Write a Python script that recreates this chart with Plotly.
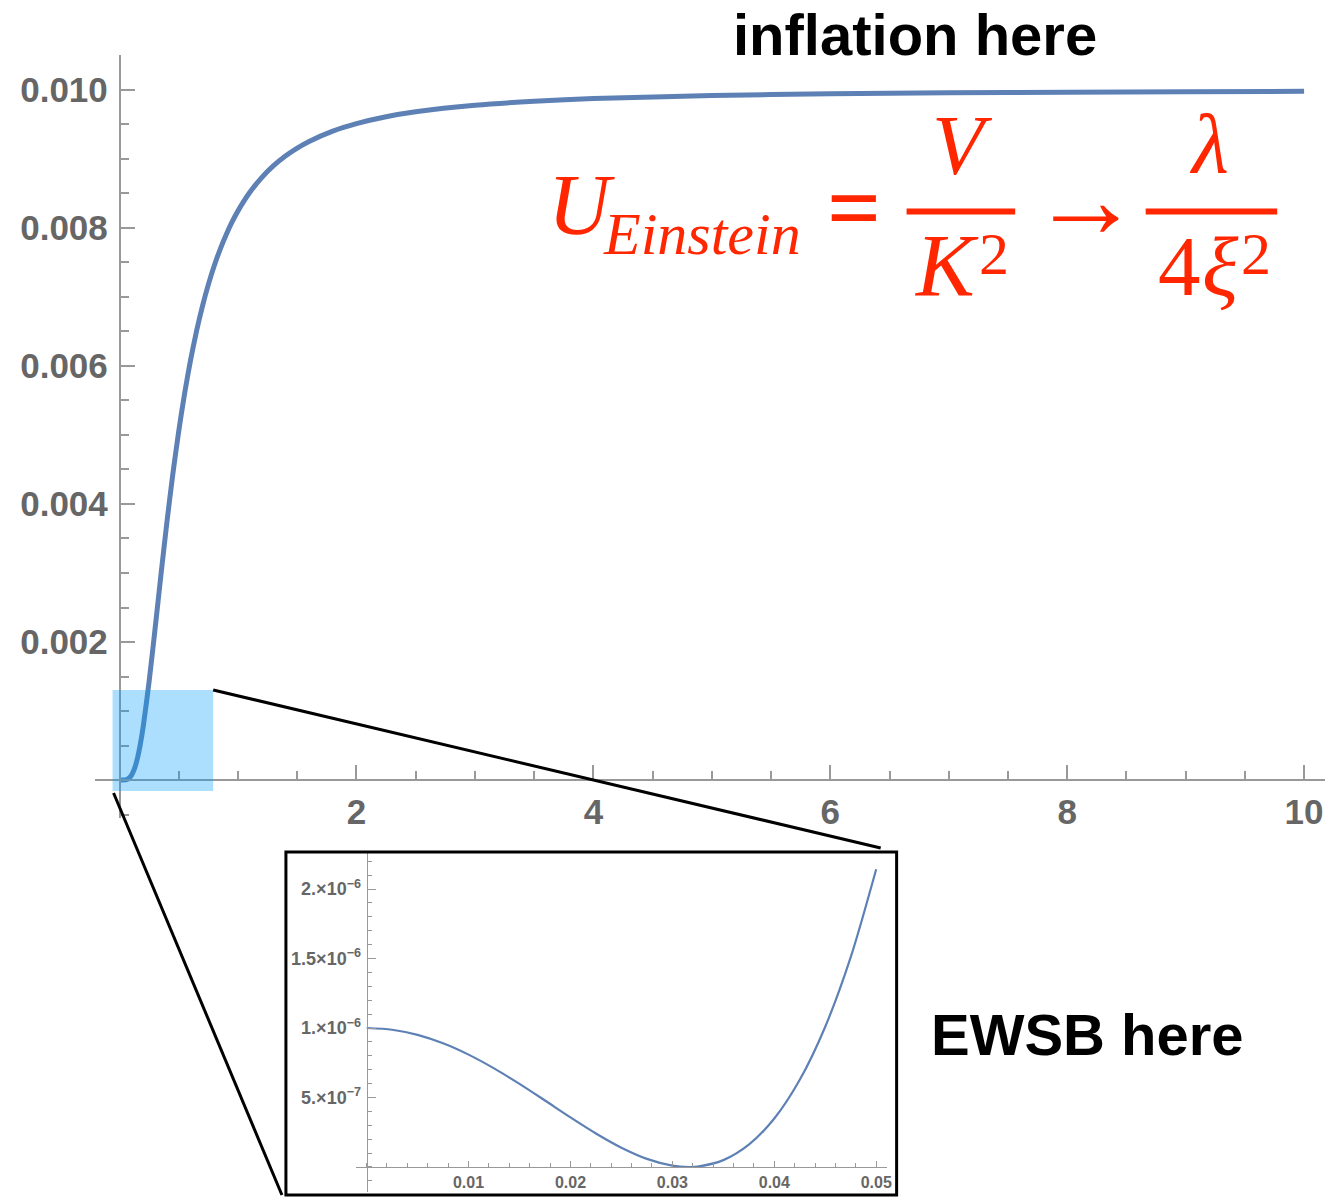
import plotly.graph_objects as go

# ---------------- data ----------------
main_h = [0.0, 0.025, 0.05, 0.075, 0.1, 0.125, 0.15, 0.175, 0.2, 0.25, 0.3, 0.35, 0.4, 0.45,
          0.5, 0.55, 0.6, 0.65, 0.7, 0.75, 0.8, 0.85, 0.9, 0.95, 1.0, 1.1, 1.2, 1.3, 1.4,
          1.5, 1.6, 1.8, 2.0, 2.25, 2.5, 3.0, 3.5, 4.0, 5.0, 6.0, 7.0, 8.0, 9.0, 10.0]
main_u = [0.000001, 0.0000001, 0.0000021, 0.0000192, 0.0000669, 0.000160, 0.000308, 0.000514,
          0.000776, 0.001432, 0.002194, 0.002982, 0.003740, 0.004437, 0.005061, 0.005611,
          0.006091, 0.006508, 0.006869, 0.007183, 0.007457, 0.007695, 0.007903, 0.008087,
          0.008248, 0.008517, 0.008731, 0.008903, 0.009044, 0.009159, 0.009255, 0.009405,
          0.009513, 0.009613, 0.009684, 0.009779, 0.009837, 0.009875, 0.009920, 0.009944,
          0.009959, 0.009968, 0.009975, 0.009980]

inset_h = [0.0, 0.0025, 0.005, 0.0075, 0.01, 0.0125, 0.015, 0.0175, 0.02, 0.0225, 0.025,
           0.0275, 0.03, 0.0316, 0.0325, 0.035, 0.0375, 0.04, 0.0425, 0.045, 0.0475, 0.05]
inset_u = [1.0e-6, 9.874e-7, 9.501e-7, 8.897e-7, 8.084e-7, 7.097e-7, 5.979e-7, 4.784e-7,
           3.571e-7, 2.413e-7, 1.389e-7, 5.85e-8, 9.8e-9, 0.0, 3.1e-9, 4.94e-8, 1.605e-7,
           3.487e-7, 6.272e-7, 1.0093e-6, 1.5093e-6, 2.1417e-6]

main_xticks = [2, 4, 6, 8, 10]
main_xlabels = ["2", "4", "6", "8", "10"]
main_yticks = [0.002, 0.004, 0.006, 0.008, 0.010]
main_ylabels = ["0.002", "0.004", "0.006", "0.008", "0.010"]
inset_xticks = [0.01, 0.02, 0.03, 0.04, 0.05]
inset_xlabels = ["0.01", "0.02", "0.03", "0.04", "0.05"]
inset_yticks = [5e-7, 1e-6, 1.5e-6, 2e-6]
inset_ylabels = ["5.×10<sup>−7</sup>", "1.×10<sup>−6</sup>", "1.5×10<sup>−6</sup>", "2.×10<sup>−6</sup>"]

# ---------------- geometry helpers ----------------
W, H = 1332, 1197
def px(x):
    return x / W
def py(y):
    return 1 - y / H

CURVE = "#5E81B5"
AX = "#999999"
LBL = "#666666"
RED = "#FF2600"

fig = go.Figure()
fig.add_trace(go.Scatter(x=main_h, y=main_u, mode="lines", line=dict(color=CURVE, width=5, shape="spline", smoothing=0.6),
                         xaxis="x", yaxis="y", hoverinfo="skip", showlegend=False))
fig.add_trace(go.Scatter(x=inset_h, y=inset_u, mode="lines", line=dict(color=CURVE, width=2.2, shape="spline", smoothing=0.8),
                         xaxis="x2", yaxis="y2", hoverinfo="skip", showlegend=False))

tickfont_main = dict(family="Liberation Sans", size=35, color=LBL, weight="bold")
tickfont_inset_x = dict(family="Liberation Sans", size=16, color=LBL, weight="bold")
tickfont_inset_y = dict(family="Liberation Sans", size=18, color=LBL, weight="bold")

fig.update_layout(
    width=W, height=H, autosize=False,
    margin=dict(l=0, r=0, t=0, b=0),
    paper_bgcolor="white", plot_bgcolor="rgba(0,0,0,0)",
    showlegend=False,
    xaxis=dict(domain=[px(95), px(1330)], range=[-0.2103, 10.1766], anchor="free", position=py(780),
               showgrid=False, zeroline=False, showline=True, linecolor=AX, linewidth=1.5,
               tickvals=main_xticks, ticktext=main_xlabels, ticks="inside", ticklen=14, tickwidth=1.5,
               tickcolor=AX, tickfont=tickfont_main, ticklabelstandoff=1,
               minor=dict(dtick=0.5, tick0=0, ticks="inside", ticklen=8, tickwidth=1.5, tickcolor=AX, showgrid=False)),
    yaxis=dict(domain=[py(818), py(55)], range=[-0.0005507, 0.010507], anchor="free", position=px(120),
               showgrid=False, zeroline=False, showline=True, linecolor=AX, linewidth=1.5,
               tickvals=main_yticks, ticktext=main_ylabels, ticks="inside", ticklen=15, tickwidth=1.5,
               tickcolor=AX, tickfont=tickfont_main, ticklabelstandoff=4,
               minor=dict(dtick=0.0005, tick0=0, ticks="inside", ticklen=9, tickwidth=1.5, tickcolor=AX, showgrid=False)),
    xaxis2=dict(domain=[px(357), px(890)], range=[-0.001075, 0.051026], anchor="free", position=py(1167),
                showgrid=False, zeroline=False, showline=True, linecolor=AX, linewidth=1,
                tickvals=inset_xticks, ticktext=inset_xlabels, ticks="inside", ticklen=6, tickwidth=1,
                tickcolor=AX, tickfont=tickfont_inset_x, ticklabelstandoff=1,
                minor=dict(dtick=0.002, tick0=0, ticks="inside", ticklen=4, tickwidth=1, tickcolor=AX, showgrid=False)),
    yaxis2=dict(domain=[py(1192), py(853)], range=[-1.799e-7, 2.259e-6], anchor="free", position=px(368),
                showgrid=False, zeroline=False, showline=True, linecolor=AX, linewidth=1,
                tickvals=inset_yticks, ticktext=inset_ylabels, ticks="inside", ticklen=8, tickwidth=1,
                tickcolor=AX, tickfont=tickfont_inset_y, ticklabelstandoff=2,
                minor=dict(dtick=1e-7, tick0=0, ticks="inside", ticklen=4, tickwidth=1, tickcolor=AX, showgrid=False)),
)

shapes = [
    # highlighted zoom region
    dict(type="rect", xref="paper", yref="paper", x0=px(113), x1=px(214), y0=py(791), y1=py(690),
         fillcolor="rgb(0,158,249)", opacity=0.33, line=dict(width=0), layer="above"),
    # zoom connector lines
    dict(type="line", xref="paper", yref="paper", x0=px(214), y0=py(690), x1=px(884), y1=py(848),
         line=dict(color="black", width=3)),
    dict(type="line", xref="paper", yref="paper", x0=px(114), y0=py(793), x1=px(283), y1=py(1195),
         line=dict(color="black", width=3)),
    # inset frame
    dict(type="rect", xref="paper", yref="paper", x0=px(287), x1=px(900), y0=py(1195), y1=py(852),
         line=dict(color="black", width=3), fillcolor="rgba(0,0,0,0)"),
    # fraction bars
    dict(type="line", xref="paper", yref="paper", x0=px(910), x1=px(1019), y0=py(211.5), y1=py(211.5),
         line=dict(color=RED, width=6)),
    dict(type="line", xref="paper", yref="paper", x0=px(1150), x1=px(1282), y0=py(211.5), y1=py(211.5),
         line=dict(color=RED, width=6)),
]
fig.update_layout(shapes=shapes)

SERIF = "Liberation Serif"
def ann(text, x, y, size, family, color, xanchor="center", yanchor="middle", weight="normal"):
    return dict(text=text, x=px(x), y=py(y), xref="paper", yref="paper", showarrow=False,
                xanchor=xanchor, yanchor=yanchor,
                font=dict(family=family, size=size, color=color, weight=weight))

annotations = [
    ann("inflation here", 918, 34, 58, "Liberation Sans", "black", weight="bold"),
    ann("EWSB here", 1092, 1034, 58, "Liberation Sans", "black", weight="bold"),
    ann("<i>U</i>", 584, 205, 86, SERIF, RED),
    ann("<i>Einstein</i>", 603, 234, 60, SERIF, RED, xanchor="left"),
    ann("=", 857, 208, 95, SERIF, RED, weight="bold"),
    ann("<i>V</i>", 966, 145, 85, SERIF, RED),
    ann("<i>K</i>", 950, 265, 88, SERIF, RED),
    ann("2", 998, 254, 60, SERIF, RED),
    ann("→", 1090, 200, 110, SERIF, RED),
    ann("<i>λ</i>", 1214, 143, 85, SERIF, RED),
    ann("4", 1184, 266, 85, SERIF, RED),
    ann("<i>ξ</i>", 1225, 266, 85, SERIF, RED),
    ann("2", 1261, 254, 60, SERIF, RED),
]
fig.update_layout(annotations=annotations)

fig.write_html("out.html")
